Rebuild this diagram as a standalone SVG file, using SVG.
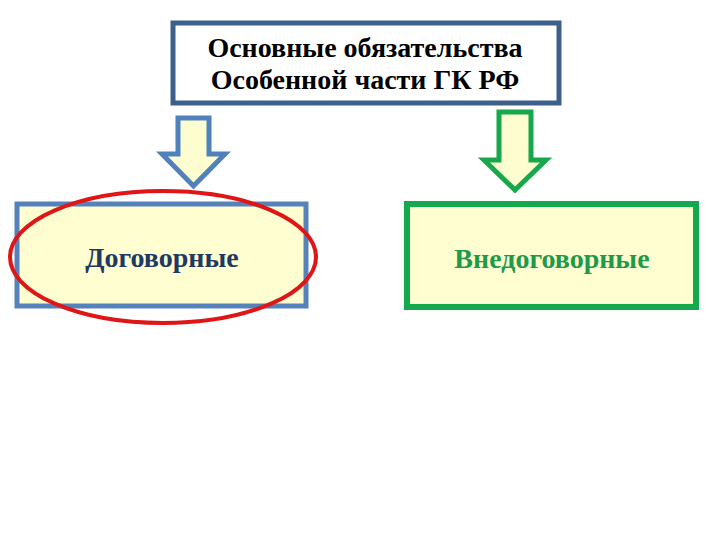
<svg xmlns="http://www.w3.org/2000/svg" width="720" height="540" viewBox="0 0 720 540">
<style>
text{font-family:"Liberation Serif","Times New Roman",serif;font-weight:bold;text-anchor:middle;font-size:28px}
.arrow{stroke-width:5;stroke-linejoin:miter;fill:#fdfdd0}
</style>
<rect width="720" height="540" fill="#ffffff"/>
<g id="top">
<rect x="173" y="23" width="386" height="80" fill="#ffffff" stroke="#3c5f8c" stroke-width="5"/>
<text x="365" y="57" fill="#000">Основные обязательства</text>
<text x="365" y="89" fill="#000">Особенной части ГК РФ</text>
</g>
<g id="connectors">
<polygon class="arrow" stroke="#4f81bd" points="178,118 209,118 209,154 225,154 193.5,186 162,154 178,154"/>
<polygon class="arrow" stroke="#17a84c" points="499,112 531,112 531,160 546,160 515,190 484,160 499,160"/>
</g>
<g id="left">
<rect x="17" y="204" width="289" height="102" fill="#fefed0" stroke="#5682bc" stroke-width="5"/>
<text x="162" y="267" fill="#1f3864">Договорные</text>
</g>
<g id="right">
<rect x="407" y="204" width="289" height="103" fill="#fefed0" stroke="#12aa4a" stroke-width="6"/>
<text x="552" y="268" fill="#1f9a4a">Внедоговорные</text>
</g>
<g id="highlight">
<ellipse cx="163" cy="257" rx="153" ry="66" fill="none" stroke="#e01515" stroke-width="4"/>
</g>
</svg>
